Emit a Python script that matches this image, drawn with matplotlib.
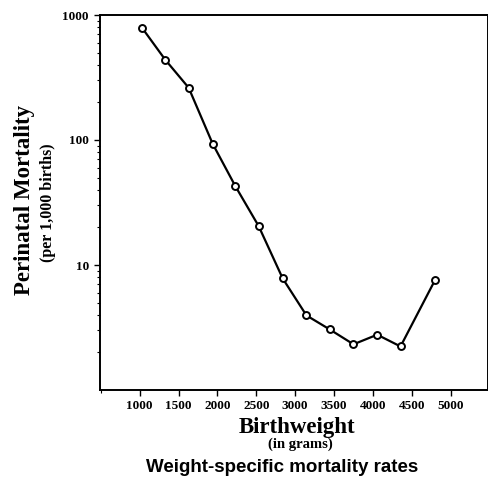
import matplotlib
matplotlib.use("Agg")
import matplotlib.pyplot as plt
from matplotlib.ticker import FixedLocator, NullFormatter, LogLocator

birthweight = [1035, 1330, 1630, 1940, 2230, 2530, 2840, 3145, 3445, 3750, 4055, 4355, 4800]
mortality = [783, 438, 262, 93, 42.8, 20.5, 7.8, 3.95, 3.05, 2.32, 2.77, 2.23, 7.6]
xticks = [1000, 1500, 2000, 2500, 3000, 3500, 4000, 4500, 5000]
yticks = [10, 100, 1000]

W, H = 489, 479
fig = plt.figure(figsize=(W / 100, H / 100), dpi=100)
ax = fig.add_axes([100 / W, (H - 390) / H, 388 / W, 375 / H])

ax.plot(birthweight, mortality, color="black", lw=1.6, marker="o", ms=5,
        mfc="white", mec="black", mew=1.4, zorder=3)
ax.set_yscale("log")
ax.set_ylim(1, 1000)
ax.set_xlim(490, 5480)

serif = "Liberation Serif"
ax.set_xticks(xticks)
ax.set_xticklabels([str(t) for t in xticks], fontfamily=serif, fontweight="bold", fontsize=9.5)
ax.xaxis.set_minor_locator(FixedLocator([500]))
ax.set_yticks(yticks)
ax.set_yticklabels([str(t) for t in yticks], fontfamily=serif, fontweight="bold", fontsize=9.5)
ax.yaxis.set_minor_locator(LogLocator(base=10, subs=range(2, 10)))
ax.yaxis.set_minor_formatter(NullFormatter())
ax.tick_params(axis="both", which="major", direction="out", length=4, width=1, pad=4)
ax.tick_params(axis="x", which="major", pad=3)
ax.tick_params(axis="both", which="minor", direction="out", length=2, width=0.8)
for s in ax.spines.values():
    s.set_linewidth(1.4)

fig.text(25 / W, 1 - 200 / H, "Perinatal Mortality", rotation=90, ha="center", va="center",
         fontfamily=serif, fontweight="bold", fontsize=16.5)
fig.text(48 / W, 1 - 203 / H, "(per 1,000 births)", rotation=90, ha="center", va="center",
         fontfamily=serif, fontweight="bold", fontsize=11.5)
fig.text(297 / W, 1 - 427 / H, "Birthweight", ha="center", va="center",
         fontfamily=serif, fontweight="bold", fontsize=16.5)
fig.text(300 / W, 1 - 444 / H, "(in grams)", ha="center", va="center",
         fontfamily=serif, fontweight="bold", fontsize=10.5)
fig.text(282 / W, 1 - 468 / H, "Weight-specific mortality rates", ha="center", va="center",
         fontfamily="Liberation Sans", fontweight="bold", fontsize=13.5)

fig.savefig("out.png", dpi=100)
